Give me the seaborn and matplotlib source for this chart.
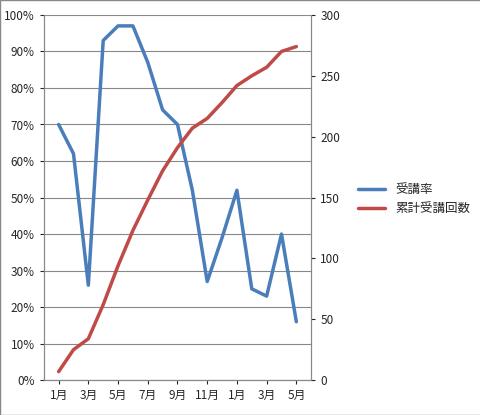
import matplotlib
matplotlib.use("Agg")
import matplotlib.pyplot as plt
import seaborn as sns
import pandas as pd
from matplotlib.ticker import PercentFormatter

sns.set_style("white")
plt.rcParams['font.family'] = ['Noto Sans CJK JP', 'DejaVu Sans']

months = ['1月', '2月', '3月', '4月', '5月', '6月', '7月', '8月', '9月',
          '10月', '11月', '12月', '1月', '2月', '3月', '4月', '5月']
rate = [70, 62, 26, 93, 97, 97, 87, 74, 70, 52, 27, 39, 52, 25, 23, 40, 16]
cumulative = [7, 25, 34, 62, 94, 123, 148, 172, 191, 207, 215, 228, 242, 250, 257, 270, 274]

df = pd.DataFrame({'x': range(len(months)), 'rate': rate, 'cum': cumulative})

fig = plt.figure(figsize=(4.81, 4.15), dpi=100)
ax = fig.add_axes([0.091, 0.084, 0.556, 0.88])
ax2 = ax.twinx()

sns.lineplot(data=df, x='x', y='rate', ax=ax, color='#4a7ebb', lw=2.5, label='受講率', legend=False)
sns.lineplot(data=df, x='cum', y='cum', ax=ax2, visible=False)
ax2.cla()
sns.lineplot(data=df, x='x', y='cum', ax=ax2, color='#be4b48', lw=2.5, label='累計受講回数', legend=False)

ax.set_ylim(0, 100)
ax.set_yticks(range(0, 101, 10))
ax.yaxis.set_major_formatter(PercentFormatter(decimals=0))
ax2.set_ylim(0, 300)
ax2.set_yticks(range(0, 301, 50))
ax.set_xlim(-1, len(months))
ax.set_xticks(range(0, len(months), 2))
ax.set_xticklabels(months[::2])
ax.grid(axis='y', color='#888888', lw=0.8)
for a in (ax, ax2):
    a.set_xlabel('')
    a.set_ylabel('')
    a.tick_params(labelsize=8.5, length=3)
    for s in a.spines.values():
        s.set_color('#888888')
ax.tick_params(axis='both', direction='out', left=True, bottom=True)
ax2.tick_params(axis='y', direction='out', right=True)
ax.spines['top'].set_visible(False)
ax2.spines['top'].set_visible(False)

h1, l1 = ax.get_legend_handles_labels()
h2, l2 = ax2.get_legend_handles_labels()
fig.legend(h1 + h2, l1 + l2, loc='center left', bbox_to_anchor=(0.72, 0.52),
           frameon=False, fontsize=9, handlelength=2.2)

fig.patches.append(plt.Rectangle((0, 0), 1, 1, transform=fig.transFigure,
                                 fill=False, edgecolor='#888888', lw=1))
fig.savefig('out.png', dpi=100)
